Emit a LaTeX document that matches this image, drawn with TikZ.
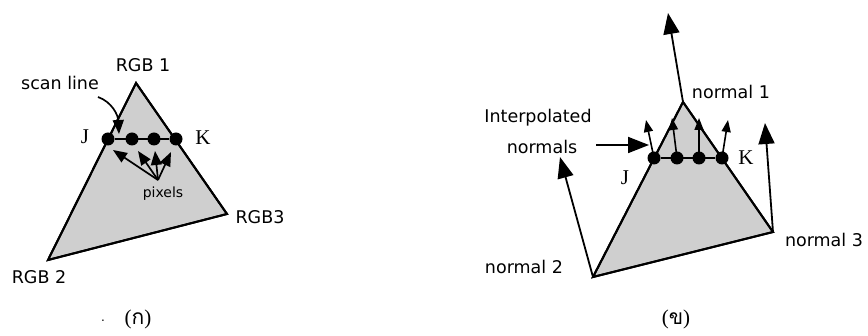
\documentclass[tikz,border=0pt]{standalone}
\usepackage{fontspec}
\setmainfont{DejaVu Sans}
\newfontfamily\serifJK{Liberation Serif}
\newfontfamily\thaifont[Script=Thai]{Loma}
\usetikzlibrary{arrows.meta}
\begin{document}
\begin{tikzpicture}[x=1pt,y=-1pt,
  face/.style={fill=black!19,draw=black,line width=2pt,line join=miter},
  edge/.style={draw=black,line width=1.8pt},
  dot/.style={circle,fill=black,inner sep=0pt,minimum size=13pt},
  lbl/.style={font=\fontsize{17.5}{20}\selectfont,inner sep=1pt},
  vlbl/.style={font=\fontsize{21}{22}\serifJK,inner sep=1pt},
  caption/.style={font=\fontsize{21}{23}\serifJK,inner sep=1pt},
  bigarrow/.style={line width=1.8pt,-{Triangle[length=21pt,width=16pt]}},
  midarrow/.style={line width=1.7pt,-{Triangle[length=14pt,width=11pt]}},
  smallarrow/.style={line width=1.6pt,-{Triangle[length=12pt,width=9pt]}}]
\useasboundingbox (0,0) rectangle (868,336);

% ---- left: Gouraud shading (colour interpolation) ----
\coordinate (A1) at (136,83);
\coordinate (A2) at (48,260);
\coordinate (A3) at (227,214);
\fill[face] (A1) -- (A2) -- (A3) -- cycle;
\draw[face,fill=none] (A1) -- (A2) -- (A3) -- cycle;

\node[dot] (lj) at (108,139) {};
\node[dot] (lp1) at (132,139) {};
\node[dot] (lp2) at (154,139) {};
\node[dot] (lk) at (176,139) {};
\draw[edge] (lj) -- (lk);

\node[lbl] (rgb1) at (143,65) {RGB 1};
\node[lbl] (rgb2) at (39,277) {RGB 2};
\node[lbl] (rgb3) at (260,217) {RGB3};
\node[vlbl] (ljl) at (85,137) {J};
\node[vlbl] (lkl) at (203,138) {K};
\node[lbl] (scan) at (60,83) {scan line};
\node[lbl,font=\fontsize{14}{16}\selectfont] (pix) at (163,194) {pixels};

\coordinate (scanfrom) at (98,97);
\coordinate (scanto) at (119,134);
\draw[midarrow] (scanfrom) .. controls (112,102) and (118,115) .. (scanto);

\coordinate (pixsrc) at (158,180);
\draw[midarrow] (pixsrc) -- (113,150);
\draw[midarrow] (pixsrc) -- (138,151);
\draw[midarrow] (pixsrc) -- (155,151);
\draw[midarrow] (pixsrc) -- (171,152);

\node[caption] (capa) at (138,319) {({\thaifont ก})};
\node[font=\fontsize{12}{12}\selectfont] (capdot) at (103,321) {.};

% ---- right: Phong shading (normal interpolation) ----
\coordinate (B1) at (683,102);
\coordinate (B2) at (593,277);
\coordinate (B3) at (773,232);
\fill[face] (B1) -- (B2) -- (B3) -- cycle;
\draw[face,fill=none] (B1) -- (B2) -- (B3) -- cycle;

\coordinate (n1tip) at (668,13);
\coordinate (n2tip) at (560,157);
\coordinate (n3tip) at (765,123);
\draw[bigarrow] (B1) -- (n1tip);
\draw[bigarrow] (B2) -- (n2tip);
\draw[bigarrow] (B3) -- (n3tip);

\node[dot] (rj) at (654,158) {};
\node[dot] (rp1) at (677,158) {};
\node[dot] (rp2) at (699,158) {};
\node[dot] (rk) at (722,158) {};
\draw[edge] (rj) -- (rk);

\coordinate (m1) at (646,120);
\coordinate (m2) at (672,118);
\coordinate (m3) at (699,118);
\coordinate (m4) at (728,120);
\draw[smallarrow] (rj.center) -- (m1);
\draw[smallarrow] (rp1.center) -- (m2);
\draw[smallarrow] (rp2.center) -- (m3);
\draw[smallarrow] (rk.center) -- (m4);

\node[lbl] (interp) at (538,118) {Interpolated};
\node[lbl] (interp2) at (542,147) {normals};
\coordinate (ifrom) at (596,145);
\coordinate (ito) at (649,145);
\draw[bigarrow] (ifrom) -- (ito);

\node[lbl] (nl1) at (731,92) {normal 1};
\node[lbl] (nl2) at (524,267) {normal 2};
\node[lbl] (nl3) at (824,240) {normal 3};
\node[vlbl] (rjl) at (625,178) {J};
\node[vlbl] (rkl) at (746,158) {K};

\node[caption] (capb) at (676,319) {({\thaifont ข})};
\end{tikzpicture}
\end{document}
